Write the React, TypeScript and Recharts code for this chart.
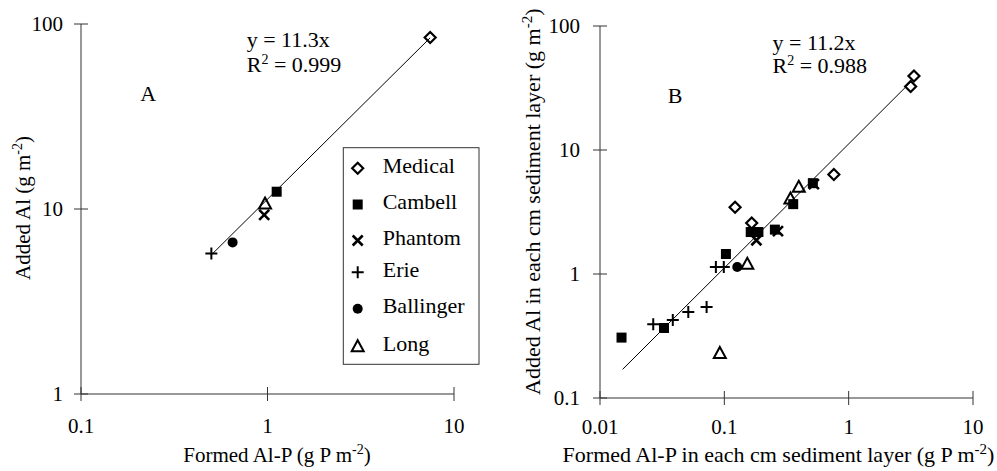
import React from 'react';
import { ScatterChart, Scatter, XAxis, YAxis } from 'recharts';

const FONT = '"Liberation Serif", "Times New Roman", serif';

const seriesNames = ['Medical', 'Cambell', 'Phantom', 'Erie', 'Ballinger', 'Long'];

// panel A: whole-core totals
const medicalA = [{ x: 7.45, y: 84.5 }];
const cambellA = [{ x: 1.12, y: 12.4 }];
const phantomA = [{ x: 0.96, y: 9.3 }];
const erieA = [{ x: 0.5, y: 5.75 }];
const ballingerA = [{ x: 0.65, y: 6.6 }];
const longA = [{ x: 0.97, y: 10.7 }];

// panel B: per-cm sediment layers
const medicalB = [
  { x: 3.35, y: 39.5 },
  { x: 3.15, y: 32.5 },
  { x: 0.76, y: 6.35 },
  { x: 0.122, y: 3.45 },
  { x: 0.166, y: 2.58 },
];
const cambellB = [
  { x: 0.0149, y: 0.307 },
  { x: 0.0327, y: 0.367 },
  { x: 0.103, y: 1.45 },
  { x: 0.163, y: 2.18 },
  { x: 0.188, y: 2.18 },
  { x: 0.255, y: 2.28 },
  { x: 0.358, y: 3.66 },
  { x: 0.515, y: 5.4 },
];
const phantomB = [
  { x: 0.181, y: 1.87 },
  { x: 0.27, y: 2.22 },
  { x: 0.525, y: 5.3 },
];
const erieB = [
  { x: 0.0268, y: 0.393 },
  { x: 0.0385, y: 0.425 },
  { x: 0.0513, y: 0.494 },
  { x: 0.072, y: 0.543 },
  { x: 0.0855, y: 1.14 },
  { x: 0.099, y: 1.14 },
];
const ballingerB = [{ x: 0.127, y: 1.14 }];
const longB = [
  { x: 0.092, y: 0.231 },
  { x: 0.153, y: 1.21 },
  { x: 0.34, y: 4.06 },
  { x: 0.397, y: 5.05 },
];

// fitted lines y = slope * x, drawn over the range shown in the figure
const slopeA = 11.3;
const fitRangeA = [0.5, 7.45];
const slopeB = 11.2;
const fitRangeB = [0.0152, 3.2];
const fitA = fitRangeA.map((x) => ({ x, y: slopeA * x }));
const fitB = fitRangeB.map((x) => ({ x, y: slopeB * x }));

const xTicksA = [0.1, 1, 10];
const yTicksA = [1, 10, 100];
const xTicksB = [0.01, 0.1, 1, 10];
const yTicksB = [0.1, 1, 10, 100];

type P = { cx?: number; cy?: number };

const Diamond = ({ cx = 0, cy = 0 }: P) => (
  <path
    d={`M${cx},${cy - 5.5}L${cx + 5.5},${cy}L${cx},${cy + 5.5}L${cx - 5.5},${cy}Z`}
    fill="none"
    stroke="#000"
    strokeWidth={2.2}
  />
);
const Square = ({ cx = 0, cy = 0 }: P) => (
  <rect x={cx - 5} y={cy - 5} width={10} height={10} fill="#000" />
);
const Cross = ({ cx = 0, cy = 0 }: P) => (
  <path
    d={`M${cx - 5},${cy - 5}L${cx + 5},${cy + 5}M${cx + 5},${cy - 5}L${cx - 5},${cy + 5}`}
    stroke="#000"
    strokeWidth={2.6}
  />
);
const Plus = ({ cx = 0, cy = 0 }: P) => (
  <path d={`M${cx - 6},${cy}H${cx + 6}M${cx},${cy - 6}V${cy + 6}`} stroke="#000" strokeWidth={2} />
);
const Dot = ({ cx = 0, cy = 0 }: P) => <circle cx={cx} cy={cy} r={5} fill="#000" />;
const Tri = ({ cx = 0, cy = 0 }: P) => (
  <path
    d={`M${cx},${cy - 6}L${cx + 6},${cy + 5}L${cx - 6},${cy + 5}Z`}
    fill="none"
    stroke="#000"
    strokeWidth={2}
  />
);
const NoShape = () => <g />;

const shapes = [Diamond, Square, Cross, Plus, Dot, Tri];

const makeXTick = (dy: number) => (props: any) => {
  const { x, y, payload } = props;
  return (
    <g>
      <line x1={x} x2={x} y1={y - 7} y2={y + 7} stroke="#333" />
      <text x={x} y={y + dy} textAnchor="middle" fontFamily={FONT} fontSize={21} fill="#000">
        {String(payload.value)}
      </text>
    </g>
  );
};

const makeYTick = (gap: number) => (props: any) => {
  const { x, y, payload } = props;
  return (
    <g>
      <line x1={x - 7} x2={x + 7} y1={y} y2={y} stroke="#333" />
      <text x={x - gap} y={y} dy="0.34em" textAnchor="end" fontFamily={FONT} fontSize={21} fill="#000">
        {String(payload.value)}
      </text>
    </g>
  );
};

const Panel = ({
  width,
  top,
  right,
  yWidth,
  xHeight,
  xTicks,
  yTicks,
  xDomain,
  yDomain,
  series,
  fit,
  xDy,
  yGap,
}: any) => (
  <ScatterChart width={width} height={471} margin={{ top, right, bottom: 0, left: 0 }}>
    <XAxis
      dataKey="x"
      type="number"
      scale="log"
      domain={xDomain}
      ticks={xTicks}
      interval={0}
      height={xHeight}
      tickSize={0}
      tickMargin={0}
      tickLine={false}
      axisLine={{ stroke: '#333' }}
      tick={makeXTick(xDy)}
      allowDataOverflow
    />
    <YAxis
      dataKey="y"
      type="number"
      scale="log"
      domain={yDomain}
      ticks={yTicks}
      interval={0}
      width={yWidth}
      tickSize={0}
      tickMargin={0}
      tickLine={false}
      axisLine={{ stroke: '#333' }}
      tick={makeYTick(yGap)}
      allowDataOverflow
    />
    <Scatter
      data={fit}
      line={{ stroke: '#000', strokeWidth: 1 }}
      shape={NoShape}
      isAnimationActive={false}
    />
    {series.map((d: any, i: number) => {
      const S = shapes[i];
      return (
        <Scatter
          key={seriesNames[i]}
          name={seriesNames[i]}
          data={d}
          shape={(p: any) => <S cx={p.cx} cy={p.cy} />}
          isAnimationActive={false}
        />
      );
    })}
  </ScatterChart>
);

const legendBaselines = [172.7, 209, 245, 276.7, 313.3, 350.7];

const Annotations = () => (
  <svg
    width={997}
    height={471}
    style={{ position: 'absolute', left: 0, top: 0, pointerEvents: 'none' }}
    fontFamily={FONT}
    fontSize={22}
  >
    {/* panel A */}
    <text x={148.3} y={100.7} textAnchor="middle">A</text>
    <text x={246.7} y={47}>y = 11.3x</text>
    <text x={246.7} y={71.5}>
      R<tspan dy={-8} fontSize={14}>2</tspan>
      <tspan dy={8}> = 0.999</tspan>
    </text>
    <text x={277} y={461.7} textAnchor="middle" fontSize={21}>
      Formed Al-P (g P m<tspan dy={-8} fontSize={14}>-2</tspan>
      <tspan dy={8}>)</tspan>
    </text>
    <text x={29.5} y={208} textAnchor="middle" fontSize={21} transform="rotate(-90 29.5 208)">
      Added Al (g m<tspan dy={-8} fontSize={14}>-2</tspan>
      <tspan dy={8}>)</tspan>
    </text>

    <rect x={343.3} y={147.7} width={135.7} height={216.6} fill="#fff" stroke="#333" />
    {seriesNames.map((n, i) => {
      const S = shapes[i];
      return (
        <g key={n}>
          <S cx={357.7} cy={legendBaselines[i] - 4.5} />
          <text x={382.7} y={legendBaselines[i]}>{n}</text>
        </g>
      );
    })}

    {/* panel B */}
    <text x={675} y={102.7} textAnchor="middle">B</text>
    <text x={772.5} y={50}>y = 11.2x</text>
    <text x={772.5} y={73.3}>
      R<tspan dy={-8} fontSize={14}>2</tspan>
      <tspan dy={8}> = 0.988</tspan>
    </text>
    <text x={778.5} y={461.7} textAnchor="middle">
      Formed Al-P in each cm sediment layer (g P m<tspan dy={-8} fontSize={15}>-2</tspan>
      <tspan dy={8}>)</tspan>
    </text>
    <text x={540} y={201.7} textAnchor="middle" transform="rotate(-90 540 201.7)">
      Added Al in each cm sediment layer (g m<tspan dy={-8} fontSize={15}>-2</tspan>
      <tspan dy={8}>)</tspan>
    </text>
  </svg>
);

export default function App() {
  return (
    <div style={{ position: 'absolute', left: 0, top: 0, width: 997, height: 471, background: '#fff' }}>
      <div style={{ position: 'absolute', left: 0, top: 0 }}>
        <Panel
          width={480}
          top={24}
          right={26}
          yWidth={81}
          xHeight={77}
          xTicks={xTicksA}
          yTicks={yTicksA}
          xDomain={[0.1, 10]}
          yDomain={[1, 100]}
          series={[medicalA, cambellA, phantomA, erieA, ballingerA, longA]}
          fit={fitA}
          xDy={39}
          yGap={18}
        />
      </div>
      <div style={{ position: 'absolute', left: 480, top: 0 }}>
        <Panel
          width={517}
          top={26}
          right={24}
          yWidth={120}
          xHeight={73}
          xTicks={xTicksB}
          yTicks={yTicksB}
          xDomain={[0.01, 10]}
          yDomain={[0.1, 100]}
          series={[medicalB, cambellB, phantomB, erieB, ballingerB, longB]}
          fit={fitB}
          xDy={36}
          yGap={20}
        />
      </div>
      <Annotations />
    </div>
  );
}
